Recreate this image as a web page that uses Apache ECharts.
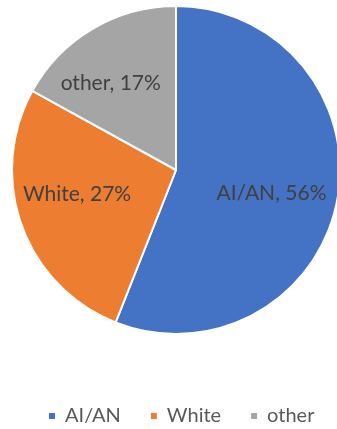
<!DOCTYPE html>
<html>
<head>
<meta charset="utf-8">
<script src="https://cdn.jsdelivr.net/npm/echarts@6/dist/echarts.min.js"></script>
<style>
  html, body { margin: 0; padding: 0; background: #ffffff; }
  #chart { width: 337px; height: 429px; }
</style>
</head>
<body>
<div id="chart"></div>
<script>
// Share of respondents by group (percent)
const categories = ['AI/AN', 'White', 'other'];
const values = [56, 27, 17];
const colors = ['#4472C4', '#ED7D31', '#A5A5A5'];
// Nudge for each in-slice label, in pixels
const labelOffsets = [[12, 7], [-19, -5], [-22, -14]];

const chart = echarts.init(document.getElementById('chart'), null, { renderer: 'canvas' });

const data = categories.map((name, i) => ({
  name: name,
  value: values[i],
  itemStyle: { color: colors[i] },
  label: { offset: labelOffsets[i] }
}));

chart.setOption({
  animation: false,
  backgroundColor: '#ffffff',
  legend: {
    data: categories,
    top: 401,
    left: 42,
    icon: 'rect',
    itemWidth: 8,
    itemHeight: 8,
    itemGap: 28,
    textStyle: { fontFamily: 'Lato', fontSize: 20, color: '#595959', padding: [0, 0, 0, 4] }
  },
  series: [{
    type: 'pie',
    center: [176, 170],
    radius: [0, 164],
    startAngle: 90,
    clockwise: true,
    avoidLabelOverlap: false,
    itemStyle: { borderColor: '#ffffff', borderWidth: 2 },
    label: {
      show: true,
      position: 'inside',
      formatter: p => p.name + ', ' + p.value + '%',
      fontFamily: 'Lato',
      fontSize: 21,
      color: '#404040'
    },
    labelLine: { show: false },
    emphasis: { disabled: true },
    data: data
  }]
});
</script>
</body>
</html>
